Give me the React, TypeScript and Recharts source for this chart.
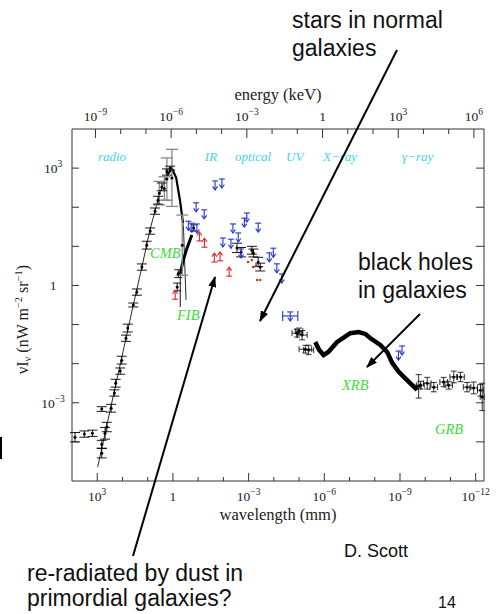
import React from "react";
import { ComposedChart, XAxis, YAxis, Line, Scatter, ErrorBar } from "recharts";

// x = -log10(wavelength / mm), y = log10(nu I_nu / nW m^-2 sr^-1)
const X_DOMAIN = [-4, 12.33];
const Y_DOMAIN = [-5, 4];
const ENERGY_SHIFT = 5.93; // log10(E/keV) = x - shift

const bottomTicks = [-3, -2, -1, 0, 1, 2, 3, 4, 5, 6, 7, 8, 9, 10, 11, 12];
const topTicks = [-9, -8, -7, -6, -5, -4, -3, -2, -1, 0, 1, 2, 3, 4, 5, 6];
const leftTicks = [-4, -3, -2, -1, 0, 1, 2, 3];

// thin blackbody / Rayleigh-Jeans line
const cmbCurve = [
  [-2.98, -4.64], [-2.45, -3.08], [-1.86, -1.35], [-1.57, -0.5], [-1.23, 0.47],
  [-0.9, 1.45], [-0.71, 1.9], [-0.51, 2.39], [-0.23, 2.82], [-0.04, 2.99],
  [0.13, 2.75], [0.29, 2.13], [0.42, 1.47], [0.46, 0.7], [0.52, -0.37],
];
// dense FIRAS points drawn bold around the peak
const peakThick = [[-0.23, 2.82], [-0.04, 2.99], [0.13, 2.75], [0.29, 2.13], [0.4, 1.6]];

// [x, y, yErr]
const radioPts = [
  [-2.82, -4.29, 0.12], [-2.82, -4.06, 0.1], [-2.69, -3.78, 0.15], [-2.62, -3.62, 0.12],
  [-2.45, -3.14, 0.1], [-2.32, -2.75, 0.08], [-2.27, -2.5, 0.1], [-2.09, -2.19, 0.08],
  [-2.03, -1.91, 0.1], [-1.86, -1.35, 0.08], [-1.79, -1.09, 0.1], [-1.57, -0.5, 0.05],
  [-1.43, -0.17, 0.08], [-1.23, 0.47, 0.08], [-1.04, 1.03, 0.1], [-0.9, 1.39, 0.08],
  [-0.71, 1.9, 0.08], [-0.59, 2.18, 0.1], [-0.44, 2.52, 0.1], [-0.24, 2.9, 0.08],
  [-0.11, 3.0, 0.05],
];
const radioOff = [
  [-3.88, -3.88, 0.12], [-3.51, -3.8, 0.08], [-3.19, -3.78, 0.08], [-2.82, -3.16, 0.06],
];
const peakGrey = [
  [-0.54, 2.36, 0.3], [-0.34, 2.48, 0.3], [-0.24, 2.72, 0.54], [-0.04, 2.75, 0.73], [0.37, 1.03, 0.77],
];

const fibThin = [[0.29, -0.55], [0.29, 0.3]];
const fibThick = [[0.29, 0.3], [0.4, 0.62], [0.52, 0.88], [0.63, 1.08], [0.75, 1.29]];
const fibPts = [[0.82, 1.47, 0.08], [0.17, -0.04, 0.1], [0.21, 0.3, 0.1]];

const blueLimits = [
  [1.67, 2.57], [1.94, 2.62], [0.92, 2.01], [1.24, 1.83], [0.61, 1.54], [0.75, 1.49],
  [0.95, 1.47], [1.98, 1.11], [2.3, 1.08], [2.38, 1.47], [2.59, 1.24], [2.7, 0.83],
  [2.83, 1.62], [2.93, 1.75], [3.38, 1.49], [3.82, 0.73], [3.98, 0.85], [4.12, 0.45],
  [4.32, 0.19], [8.94, -1.78], [9.08, -1.65],
];
// [x, y, xErr]
const blueWide = [[4.65, -0.78, 0.3]];

const redLimits = [[0.09, -0.25], [1.05, 1.24], [1.25, 1.08], [1.64, 0.7], [1.87, 0.73], [2.23, 0.34]];
const redDots = [[2.98, 0.6], [3.13, 0.65], [3.18, 0.47], [3.3, 0.52], [3.34, 0.14], [3.46, 0.14]];

const opticalPts = [
  [2.54, 0.96, 0.12], [2.7, 0.85, 0.12], [3.13, 0.9, 0.1], [3.19, 0.83, 0.1], [3.38, 0.6, 0.12], [3.46, 0.47, 0.1],
];

// [x, y, yErr, xErr]
const xrayPts = [
  [4.92, -1.22, 0.1, 0.2], [5.0, -1.17, 0.08, 0.15], [5.12, -1.27, 0.12, 0.2],
  [5.25, -1.63, 0.1, 0.25], [5.38, -1.65, 0.12, 0.2],
];
const xrbBand = [
  [5.64, -1.45], [5.8, -1.65], [5.97, -1.78], [6.16, -1.7], [6.5, -1.45], [7.03, -1.22],
  [7.36, -1.19], [7.63, -1.24], [7.83, -1.35], [8.22, -1.52], [8.49, -1.7], [8.69, -1.98],
  [8.95, -2.21], [9.28, -2.42], [9.68, -2.67],
];
const grbPts = [
  [9.74, -2.58, 0.3, 0.1], [9.81, -2.55, 0.1, 0.15], [10.08, -2.5, 0.15, 0.15], [10.34, -2.6, 0.12, 0.15],
  [10.73, -2.47, 0.12, 0.15], [10.93, -2.55, 0.1, 0.15], [11.13, -2.34, 0.15, 0.15], [11.4, -2.34, 0.12, 0.15],
  [11.66, -2.6, 0.12, 0.15], [11.92, -2.62, 0.15, 0.15], [12.19, -2.68, 0.15, 0.12], [12.26, -2.85, 0.35, 0.08],
];

const AXIS = "#333";
const BLUE = "#2433cc";
const RED = "#e02424";
const CYAN = "#40d6e6";
const GREEN = "#3ada3a";
const SERIF = "'Liberation Serif', 'Times New Roman', serif";
const SANS = "'Liberation Sans', Arial, sans-serif";

const toXY = (rows: number[][]) => rows.map(([x, y]) => ({ x, y }));
const toErr = (rows: number[][]) =>
  rows.map(([x, y, ey = 0, ex = 0]) => ({ x, y, ey, ex }));

const pow10 = (e: number) =>
  e === 0 ? (
    <tspan>1</tspan>
  ) : (
    <>
      <tspan>10</tspan>
      <tspan dy={-6} fontSize={9.5}>{e < 0 ? "\u2212" + -e : String(e)}</tspan>
    </>
  );

const isMajor = (v: number) => Math.round(v) % 3 === 0;
const tickFont = { fontSize: 13.5, fontFamily: SERIF, fill: "#222" };

function BottomTick(props: any) {
  const { x, y, payload } = props;
  const v = payload.value;
  return (
    <g>
      <line x1={x} y1={y} x2={x} y2={y - (isMajor(v) ? 8 : 4)} stroke={AXIS} />
      {isMajor(v) && (
        <text x={x} y={y + 20} textAnchor="middle" {...tickFont}>
          {pow10(-v)}
        </text>
      )}
    </g>
  );
}

function TopTick(props: any) {
  const { x, y, payload } = props;
  const v = payload.value;
  return (
    <g>
      <line x1={x} y1={y} x2={x} y2={y + (isMajor(v) ? 9 : 5)} stroke={AXIS} />
      {isMajor(v) && (
        <text x={x} y={y - 8} textAnchor="middle" {...tickFont}>
          {pow10(v)}
        </text>
      )}
    </g>
  );
}

function LeftTick(props: any) {
  const { x, y, payload } = props;
  const v = payload.value;
  return (
    <g>
      <line x1={x} y1={y} x2={x + 7} y2={y} stroke={AXIS} />
      {isMajor(v) && (
        <text x={x - 19} y={y + 5} textAnchor="middle" {...tickFont}>
          {pow10(v)}
        </text>
      )}
    </g>
  );
}

function RightTick(props: any) {
  const { x, y } = props;
  return <line x1={x} y1={y} x2={x - 8} y2={y} stroke={AXIS} />;
}

const Dot = (p: any) => <circle cx={p.cx} cy={p.cy} r={1.5} fill="#000" />;
const RedDot = (p: any) => <circle cx={p.cx} cy={p.cy} r={1.2} fill={RED} />;

const UpperLimit = (p: any) => (
  <g stroke={BLUE} strokeWidth={1.1} fill="none">
    <line x1={p.cx - 3} y1={p.cy - 4} x2={p.cx + 3} y2={p.cy - 4} />
    <line x1={p.cx} y1={p.cy - 4} x2={p.cx} y2={p.cy + 5} />
    <path d={`M${p.cx - 2.5},${p.cy + 1.5} L${p.cx},${p.cy + 5} L${p.cx + 2.5},${p.cy + 1.5}`} />
  </g>
);

const LowerLimit = (p: any) => (
  <g stroke={RED} strokeWidth={1.1} fill="none">
    <line x1={p.cx - 3} y1={p.cy + 4} x2={p.cx + 3} y2={p.cy + 4} />
    <line x1={p.cx} y1={p.cy + 4} x2={p.cx} y2={p.cy - 5} />
    <path d={`M${p.cx - 2.5},${p.cy - 1.5} L${p.cx},${p.cy - 5} L${p.cx + 2.5},${p.cy - 1.5}`} />
  </g>
);

const ax = { xAxisId: "bottom", yAxisId: "left" };

function Overlay() {
  const ann = { fontFamily: SANS, fontSize: 23, fill: "#111" };
  const region = { fontFamily: SERIF, fontStyle: "italic", fontSize: 13, fill: CYAN };
  const name = { fontFamily: SERIF, fontStyle: "italic", fontSize: 14.5, fill: GREEN };
  return (
    <svg
      width={496}
      height={614}
      style={{ position: "absolute", left: 0, top: 0, pointerEvents: "none" }}
    >
      <defs>
        <marker id="ah" markerWidth={11} markerHeight={8} refX={10} refY={4} orient="auto" markerUnits="userSpaceOnUse">
          <path d="M0,0 L11,4 L0,8 z" fill="#000" />
        </marker>
      </defs>

      <text x={278} y={100} textAnchor="middle" fontFamily={SERIF} fontSize={16.5} fill="#222">energy (keV)</text>
      <text x={278} y={520} textAnchor="middle" fontFamily={SERIF} fontSize={16.5} fill="#222">wavelength (mm)</text>
      <text transform="translate(28,374) rotate(-90)" fontFamily={SERIF} fontSize={16} fill="#222">
        <tspan>{"\u03bdI"}</tspan>
        <tspan dy={3} fontSize={10.5}>{"\u03bd"}</tspan>
        <tspan dy={-3}>{" (nW m"}</tspan>
        <tspan dy={-6} fontSize={10.5}>{"\u22122"}</tspan>
        <tspan dy={6}>{" sr"}</tspan>
        <tspan dy={-6} fontSize={10.5}>{"\u22121"}</tspan>
        <tspan dy={6}>)</tspan>
      </text>

      <text x={112} y={161} textAnchor="middle" {...region}>radio</text>
      <text x={211} y={161} textAnchor="middle" {...region}>IR</text>
      <text x={235} y={161} {...region}>optical</text>
      <text x={286} y={161} {...region}>UV</text>
      <text x={323} y={161} {...region}>X{"\u2212"}ray</text>
      <text x={402} y={161} {...region}>{"\u03b3\u2212"}ray</text>

      <text x={150} y={258} {...name}>CMB</text>
      <text x={177} y={320} {...name}>FIB</text>
      <text x={342} y={390} {...name}>XRB</text>
      <text x={435} y={434} {...name}>GRB</text>

      <text x={292} y={28} {...ann}>stars in normal</text>
      <text x={292} y={56} {...ann}>galaxies</text>
      <line x1={397} y1={50} x2={260} y2={321} stroke="#000" strokeWidth={2} markerEnd="url(#ah)" />

      <text x={358} y={270} {...ann}>black holes</text>
      <text x={358} y={298} {...ann}>in galaxies</text>
      <line x1={420} y1={314} x2={367} y2={367} stroke="#000" strokeWidth={2} markerEnd="url(#ah)" />

      <text x={27} y={581} {...ann}>re-radiated by dust in</text>
      <text x={27} y={606} {...ann}>primordial galaxies?</text>
      <line x1={133} y1={556} x2={215} y2={277} stroke="#000" strokeWidth={2} markerEnd="url(#ah)" />

      <text x={344} y={557} fontFamily={SANS} fontSize={18} fill="#111">D. Scott</text>
      <text x={438} y={608} fontFamily={SANS} fontSize={16} fill="#111">14</text>
      <rect x={0} y={437} width={2} height={22} fill="#000" />
    </svg>
  );
}

export default function App() {
  return (
    <div style={{ position: "relative", width: 496, height: 614, background: "#fff" }}>
      <style>{"body{margin:0;background:#fff}"}</style>
      <ComposedChart width={496} height={614} margin={{ top: 99, right: 2, bottom: 103, left: 12 }}>
        <XAxis
          xAxisId="bottom"
          type="number"
          dataKey="x"
          domain={X_DOMAIN}
          ticks={bottomTicks}
          interval={0}
          allowDataOverflow
          height={30}
          tickSize={0}
          tickMargin={0}
          tickLine={false}
          axisLine={{ stroke: AXIS }}
          tick={<BottomTick />}
        />
        <XAxis
          xAxisId="top"
          orientation="top"
          type="number"
          dataKey="x"
          domain={[X_DOMAIN[0] - ENERGY_SHIFT, X_DOMAIN[1] - ENERGY_SHIFT]}
          ticks={topTicks}
          interval={0}
          allowDataOverflow
          height={30}
          tickSize={0}
          tickMargin={0}
          tickLine={false}
          axisLine={{ stroke: AXIS }}
          tick={<TopTick />}
        />
        <YAxis
          yAxisId="left"
          type="number"
          dataKey="y"
          domain={Y_DOMAIN}
          ticks={leftTicks}
          interval={0}
          allowDataOverflow
          width={60}
          tickSize={0}
          tickMargin={0}
          tickLine={false}
          axisLine={{ stroke: AXIS }}
          tick={<LeftTick />}
        />
        <YAxis
          yAxisId="right"
          orientation="right"
          type="number"
          dataKey="y"
          domain={Y_DOMAIN}
          ticks={leftTicks}
          interval={0}
          allowDataOverflow
          width={10}
          tickSize={0}
          tickMargin={0}
          tickLine={false}
          axisLine={{ stroke: AXIS }}
          tick={<RightTick />}
        />

        <Line {...ax} data={toXY(cmbCurve)} dataKey="y" type="linear" stroke="#111" strokeWidth={0.9} dot={false} isAnimationActive={false} />
        <Line {...ax} data={toXY(peakThick)} dataKey="y" type="linear" stroke="#000" strokeWidth={2.2} dot={false} isAnimationActive={false} />
        <Line {...ax} data={toXY(fibThin)} dataKey="y" type="linear" stroke="#111" strokeWidth={1} dot={false} isAnimationActive={false} />
        <Line {...ax} data={toXY(fibThick)} dataKey="y" type="linear" stroke="#000" strokeWidth={3} dot={false} isAnimationActive={false} />
        <Line {...ax} data={toXY(xrbBand)} dataKey="y" type="linear" stroke="#000" strokeWidth={4.5} dot={false} isAnimationActive={false} />

        <Scatter {...ax} data={toErr(peakGrey)} shape={Dot} isAnimationActive={false}>
          <ErrorBar dataKey="ey" direction="y" width={6} stroke="#888" strokeWidth={1.3} />
        </Scatter>
        <Scatter {...ax} data={toErr(radioPts)} shape={Dot} isAnimationActive={false}>
          <ErrorBar dataKey="ey" direction="y" width={5} stroke="#000" strokeWidth={0.9} />
        </Scatter>
        <Scatter {...ax} data={toErr(radioOff)} shape={Dot} isAnimationActive={false}>
          <ErrorBar dataKey="ey" direction="y" width={5} stroke="#000" strokeWidth={0.9} />
        </Scatter>
        <Scatter {...ax} data={toErr(fibPts)} shape={Dot} isAnimationActive={false}>
          <ErrorBar dataKey="ey" direction="y" width={4} stroke="#000" strokeWidth={0.9} />
        </Scatter>
        <Scatter {...ax} data={toErr(opticalPts)} shape={Dot} isAnimationActive={false}>
          <ErrorBar dataKey="ey" direction="y" width={5} stroke="#000" strokeWidth={0.9} />
        </Scatter>
        <Scatter {...ax} data={toXY(blueLimits)} shape={UpperLimit} isAnimationActive={false} />
        <Scatter {...ax} data={blueWide.map(([x, y, ex]) => ({ x, y, ex }))} shape={UpperLimit} isAnimationActive={false}>
          <ErrorBar dataKey="ex" direction="x" width={5} stroke={BLUE} strokeWidth={1.1} />
        </Scatter>
        <Scatter {...ax} data={toXY(redLimits)} shape={LowerLimit} isAnimationActive={false} />
        <Scatter {...ax} data={toXY(redDots)} shape={RedDot} isAnimationActive={false} />
        <Scatter {...ax} data={toErr(xrayPts)} shape={Dot} isAnimationActive={false}>
          <ErrorBar dataKey="ey" direction="y" width={3} stroke="#000" strokeWidth={0.8} />
          <ErrorBar dataKey="ex" direction="x" width={3} stroke="#000" strokeWidth={0.8} />
        </Scatter>
        <Scatter {...ax} data={toErr(grbPts)} shape={Dot} isAnimationActive={false}>
          <ErrorBar dataKey="ey" direction="y" width={3} stroke="#000" strokeWidth={0.8} />
          <ErrorBar dataKey="ex" direction="x" width={3} stroke="#000" strokeWidth={0.8} />
        </Scatter>
      </ComposedChart>
      <Overlay />
    </div>
  );
}
